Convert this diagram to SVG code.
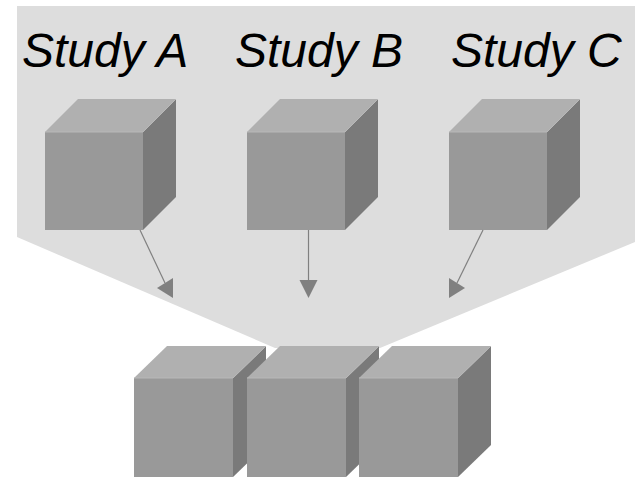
<svg xmlns="http://www.w3.org/2000/svg" width="635" height="479" viewBox="0 0 635 479">
<style>
.lbl{font-family:"Liberation Sans",Arial,sans-serif;font-style:italic;font-size:48px;fill:#000}
.front{fill:#999999}
.top{fill:#b0b0b0}
.side{fill:#7a7a7a}
.edge{stroke:#b8b8b8;stroke-width:1;fill:none}
.conn{stroke:#808080;stroke-width:1.2;fill:none}
.head{fill:#808080}
</style>
<defs>
<g id="cubeT">
<polygon class="top" points="0,33 33,0 131,0 98,33"/>
<polygon class="side" points="98,33 131,0 131,98 98,131"/>
<rect class="front" x="0" y="33" width="98" height="98"/>
<polyline class="edge" points="0,33 98,33 131,0"/>
</g>
<g id="cubeB">
<polygon class="top" points="0,32 33,0 132,0 99,32"/>
<polygon class="side" points="99,32 132,0 132,99 99,131"/>
<rect class="front" x="0" y="32" width="99" height="99"/>
<polyline class="edge" points="0,32 99,32 132,0"/>
</g>
</defs>
<polygon id="background" fill="#dddddd" points="17,6 635,6 635,242 380,348 275,348 17,237"/>
<g id="studyA">
<text class="lbl" x="22" y="67">Study A</text>
<use href="#cubeT" x="45" y="99"/>
</g>
<g id="studyB">
<text class="lbl" x="235" y="67">Study B</text>
<use href="#cubeT" x="247" y="99"/>
</g>
<g id="studyC">
<text class="lbl" x="451" y="67">Study C</text>
<use href="#cubeT" x="449" y="99"/>
</g>
<g id="connectors">
<line class="conn" x1="140" y1="230" x2="165" y2="283"/>
<polygon class="head" points="173,298 173,278 157,288"/>
<line class="conn" x1="308.5" y1="230" x2="308.5" y2="281"/>
<polygon class="head" points="308.5,298 299.5,280 317.5,280"/>
<line class="conn" x1="483" y1="230" x2="457" y2="283"/>
<polygon class="head" points="449,298 449,278 465,288"/>
</g>
<g id="combined1"><use href="#cubeB" x="134" y="346"/></g>
<g id="combined2"><use href="#cubeB" x="247" y="346"/></g>
<g id="combined3"><use href="#cubeB" x="359" y="346"/></g>
</svg>
